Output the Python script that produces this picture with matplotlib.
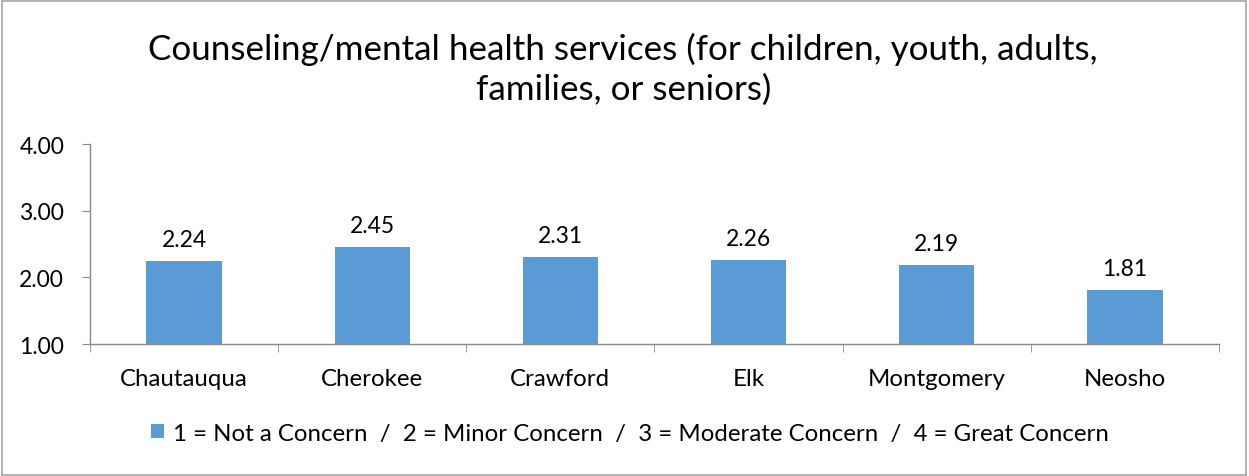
import matplotlib
matplotlib.use("Agg")
import matplotlib.pyplot as plt
from matplotlib.patches import Rectangle, Patch
import numpy as np

counties = ["Chautauqua", "Cherokee", "Crawford", "Elk", "Montgomery", "Neosho"]
scores = [2.24, 2.45, 2.31, 2.26, 2.19, 1.81]
y_ticks = [1.00, 2.00, 3.00, 4.00]
title = "Counseling/mental health services (for children, youth, adults,\nfamilies, or seniors)"
legend_label = "1 = Not a Concern  /  2 = Minor Concern  /  3 = Moderate Concern  /  4 = Great Concern"

bar_color = "#5B9BD5"
axis_color = "#898989"
value_size = 16.5
label_size = 17.3
plt.rcParams["font.family"] = ["Lato", "DejaVu Sans"]

fig = plt.figure(figsize=(12.49, 4.77), dpi=100)
fig.patches.append(Rectangle((0.0015, 0.003), 0.996, 0.993, transform=fig.transFigure,
                             fill=False, edgecolor="#A6A6A6", linewidth=1.2))

ax = fig.add_axes([0.072, 0.2767, 0.904, 0.4193])
x = np.arange(len(counties))
ax.bar(x, [s - 1.0 for s in scores], bottom=1.0, width=0.4, color=bar_color, zorder=2)
for xi, s in zip(x, scores):
    ax.annotate(f"{s:.2f}", (xi, s), xytext=(0, 8), textcoords="offset points",
                ha="center", va="bottom", fontsize=value_size, color="#000000")

ax.set_xlim(-0.5, len(counties) - 0.5)
ax.set_ylim(1.0, 4.0)
ax.set_yticks(y_ticks)
ax.set_yticklabels([f"{v:.2f}" for v in y_ticks], fontsize=value_size)
ax.set_xticks(x)
ax.set_xticklabels(counties, fontsize=label_size)
ax.set_xticks(np.arange(len(counties) + 1) - 0.5, minor=True)
ax.tick_params(axis="x", which="major", length=0, pad=17)
ax.tick_params(axis="x", which="minor", length=5.5, color=axis_color, direction="out")
ax.tick_params(axis="y", length=5.5, color=axis_color, direction="out", pad=13)
for side in ("top", "right"):
    ax.spines[side].set_visible(False)
for side in ("left", "bottom"):
    ax.spines[side].set_color(axis_color)
    ax.spines[side].set_linewidth(1.0)

fig.text(0.499, 0.854, title, ha="center", va="center", fontsize=25.2, linespacing=1.28)

handle = Patch(facecolor=bar_color, edgecolor="none")
fig.legend([handle], [legend_label], loc="center", bbox_to_anchor=(0.504, 0.09),
           frameon=False, fontsize=label_size, handlelength=0.57, handleheight=0.57,
           handletextpad=0.35)

fig.savefig("out.png", dpi=100)
